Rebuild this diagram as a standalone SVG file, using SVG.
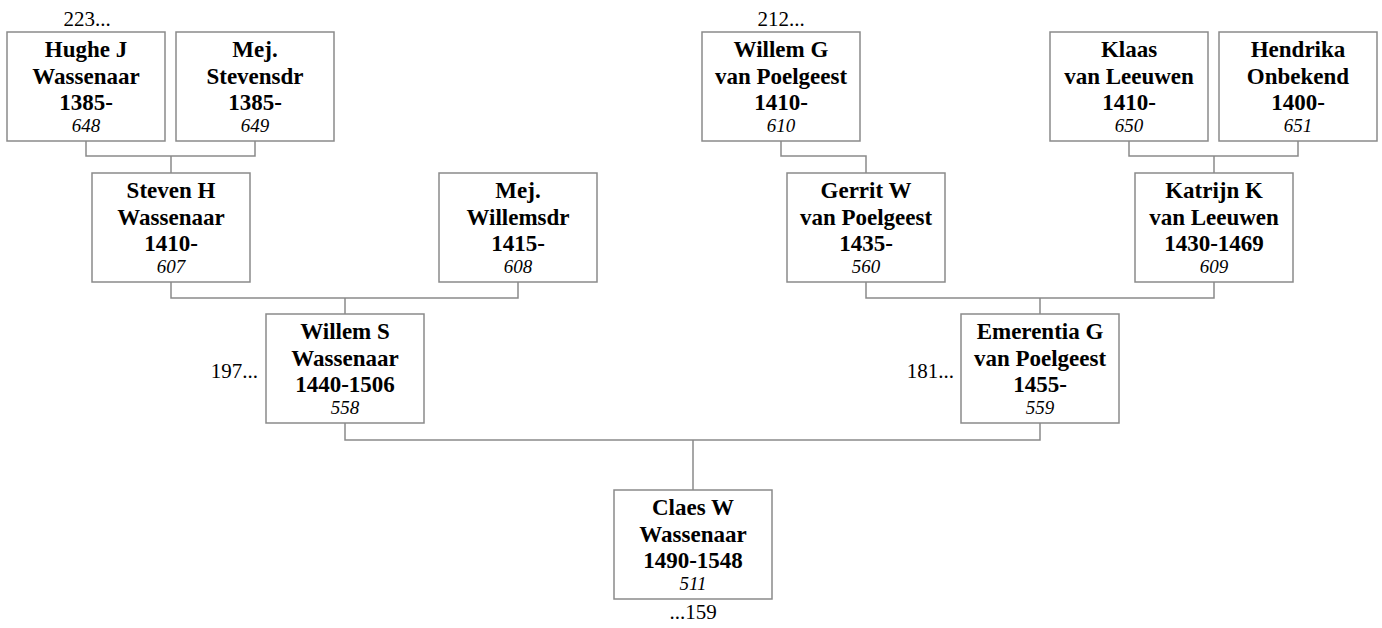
<svg xmlns="http://www.w3.org/2000/svg" width="1382" height="628" viewBox="0 0 1382 628">
<style>
.box{fill:#fff;stroke:#8a8a8a;stroke-width:1.5}
.n{font-family:"Liberation Serif","Times New Roman",serif;font-size:23px;font-weight:bold;text-anchor:middle;fill:#000}
.id{font-family:"Liberation Serif","Times New Roman",serif;font-size:19px;font-style:italic;text-anchor:middle;fill:#000}
.ref{font-family:"Liberation Serif","Times New Roman",serif;font-size:21px;fill:#000}
.con{fill:none;stroke:#8a8a8a;stroke-width:1.5}
</style>
<rect width="1382" height="628" fill="#fff"/>
<g id="connectors" class="con">
<path d="M86,141V156H255V141M171,156V173"/>
<path d="M781,141V156H866V173"/>
<path d="M1129,141V156H1298V141M1214,156V173"/>
<path d="M171,282V298H518V282M345,298V314"/>
<path d="M866,282V298H1214V282M1040,298V314"/>
<path d="M345,423V440H1040V423M693,440V490"/>
</g>
<g id="n648"><rect class="box" x="7" y="32" width="158" height="109"/><text class="n" x="86" y="57">Hughe J</text><text class="n" x="86" y="83.5">Wassenaar</text><text class="n" x="86" y="110">1385-</text><text class="id" x="86" y="131.5">648</text></g>
<g id="n649"><rect class="box" x="176" y="32" width="158" height="109"/><text class="n" x="255" y="57">Mej.</text><text class="n" x="255" y="83.5">Stevensdr</text><text class="n" x="255" y="110">1385-</text><text class="id" x="255" y="131.5">649</text></g>
<g id="n610"><rect class="box" x="702" y="32" width="158" height="109"/><text class="n" x="781" y="57">Willem G</text><text class="n" x="781" y="83.5">van Poelgeest</text><text class="n" x="781" y="110">1410-</text><text class="id" x="781" y="131.5">610</text></g>
<g id="n650"><rect class="box" x="1050" y="32" width="158" height="109"/><text class="n" x="1129" y="57">Klaas</text><text class="n" x="1129" y="83.5">van Leeuwen</text><text class="n" x="1129" y="110">1410-</text><text class="id" x="1129" y="131.5">650</text></g>
<g id="n651"><rect class="box" x="1219" y="32" width="158" height="109"/><text class="n" x="1298" y="57">Hendrika</text><text class="n" x="1298" y="83.5">Onbekend</text><text class="n" x="1298" y="110">1400-</text><text class="id" x="1298" y="131.5">651</text></g>
<g id="n607"><rect class="box" x="92" y="173" width="158" height="109"/><text class="n" x="171" y="198">Steven H</text><text class="n" x="171" y="224.5">Wassenaar</text><text class="n" x="171" y="251">1410-</text><text class="id" x="171" y="272.5">607</text></g>
<g id="n608"><rect class="box" x="439" y="173" width="158" height="109"/><text class="n" x="518" y="198">Mej.</text><text class="n" x="518" y="224.5">Willemsdr</text><text class="n" x="518" y="251">1415-</text><text class="id" x="518" y="272.5">608</text></g>
<g id="n560"><rect class="box" x="787" y="173" width="158" height="109"/><text class="n" x="866" y="198">Gerrit W</text><text class="n" x="866" y="224.5">van Poelgeest</text><text class="n" x="866" y="251">1435-</text><text class="id" x="866" y="272.5">560</text></g>
<g id="n609"><rect class="box" x="1135" y="173" width="158" height="109"/><text class="n" x="1214" y="198">Katrijn K</text><text class="n" x="1214" y="224.5">van Leeuwen</text><text class="n" x="1214" y="251">1430-1469</text><text class="id" x="1214" y="272.5">609</text></g>
<g id="n558"><rect class="box" x="266" y="314" width="158" height="109"/><text class="n" x="345" y="339">Willem S</text><text class="n" x="345" y="365.5">Wassenaar</text><text class="n" x="345" y="392">1440-1506</text><text class="id" x="345" y="413.5">558</text></g>
<g id="n559"><rect class="box" x="961" y="314" width="158" height="109"/><text class="n" x="1040" y="339">Emerentia G</text><text class="n" x="1040" y="365.5">van Poelgeest</text><text class="n" x="1040" y="392">1455-</text><text class="id" x="1040" y="413.5">559</text></g>
<g id="n511"><rect class="box" x="614" y="490" width="158" height="109"/><text class="n" x="693" y="515">Claes W</text><text class="n" x="693" y="541.5">Wassenaar</text><text class="n" x="693" y="568">1490-1548</text><text class="id" x="693" y="589.5">511</text></g>
<g id="refs">
<text class="ref" x="87" y="26" text-anchor="middle">223...</text>
<text class="ref" x="781" y="26" text-anchor="middle">212...</text>
<text class="ref" x="258" y="378" text-anchor="end">197...</text>
<text class="ref" x="954" y="378" text-anchor="end">181...</text>
<text class="ref" x="693" y="619" text-anchor="middle">...159</text>
</g>
</svg>
